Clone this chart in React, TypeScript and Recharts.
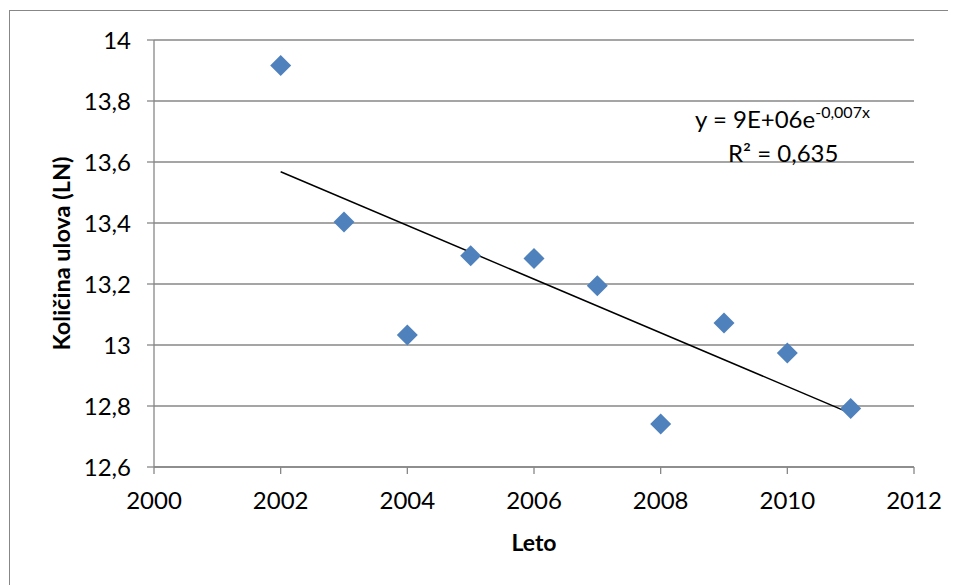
import React from 'react';
import { ScatterChart, Scatter, XAxis, YAxis, CartesianGrid } from 'recharts';

const years = [2002, 2003, 2004, 2005, 2006, 2007, 2008, 2009, 2010, 2011];
const catchLn = [13.916, 13.403, 13.033, 13.293, 13.284, 13.194, 12.741, 13.072, 12.974, 12.792];

const trendYears = [2002, 2011];
const trendValues = [13.568, 12.776];

const xTicks = [2000, 2002, 2004, 2006, 2008, 2010, 2012];
const yTicks = [12.6, 12.8, 13, 13.2, 13.4, 13.6, 13.8, 14];

const xLabel = 'Leto';
const yLabel = 'Količina ulova (LN)';
const eqMain = 'y = 9E+06e';
const eqExp = '-0,007x';
const r2Text = 'R² = 0,635';

const points = years.map((x, i) => ({ x, y: catchLn[i] }));
const trend = trendYears.map((x, i) => ({ x, y: trendValues[i] }));

const FONT = 'Lato, "Open Sans", sans-serif';
const GRAY = '#878787';

const Diamond = (props: any) => {
  const { cx, cy } = props;
  const r = 10.5;
  return (
    <polygon
      points={`${cx},${cy - r} ${cx + r},${cy} ${cx},${cy + r} ${cx - r},${cy}`}
      fill="#4F81BD"
    />
  );
};

const NoShape = () => <g />;

export default function App() {
  return (
    <div style={{ position: 'relative', width: 948, height: 577, overflow: 'hidden', background: '#fff' }}>
      <div
        style={{
          position: 'absolute',
          left: 1,
          top: 2,
          width: 1000,
          height: 700,
          border: `1px solid ${GRAY}`,
          boxSizing: 'border-box',
        }}
      />
      <div style={{ position: 'absolute', left: 0, top: 0 }}>
        <ScatterChart
          width={948}
          height={577}
          margin={{ top: 32, right: 42, left: 66, bottom: 58 }}
        >
          <CartesianGrid vertical={false} stroke={GRAY} strokeWidth={1.3} />
          <XAxis
            type="number"
            dataKey="x"
            domain={[2000, 2012]}
            ticks={xTicks}
            interval={0}
            height={60}
            stroke={GRAY}
            strokeWidth={1.3}
            tickSize={7}
            tickMargin={18}
            tick={{ fill: '#000', fontSize: 24, fontFamily: FONT }}
            label={{
              value: xLabel,
              position: 'bottom',
              offset: 8,
              style: { fill: '#000', fontSize: 23, fontWeight: 700, fontFamily: FONT },
            }}
          />
          <YAxis
            type="number"
            dataKey="y"
            domain={[12.6, 14]}
            ticks={yTicks}
            interval={0}
            width={80}
            stroke={GRAY}
            strokeWidth={1.3}
            tickSize={7}
            tickMargin={16}
            tickFormatter={(v: number) => String(v).replace('.', ',')}
            tick={{ fill: '#000', fontSize: 24, fontFamily: FONT }}
            label={{
              value: yLabel,
              angle: -90,
              position: 'insideLeft',
              offset: 0,
              dx: -12,
              style: { fill: '#000', fontSize: 23.5, fontWeight: 700, fontFamily: FONT, textAnchor: 'middle' },
            }}
          />
          <Scatter data={trend} line={{ stroke: '#000', strokeWidth: 1.5 }} shape={NoShape} isAnimationActive={false} />
          <Scatter data={points} shape={Diamond} isAnimationActive={false} />
        </ScatterChart>
      </div>
      <div
        style={{
          position: 'absolute',
          left: 640,
          top: 94,
          width: 300,
          textAlign: 'left',
          fontFamily: FONT,
          fontSize: 24,
          color: '#000',
          lineHeight: '34px',
        }}
      >
        <div style={{ position: 'absolute', left: 47, top: 0, whiteSpace: 'nowrap' }}>
          {eqMain}
          <span style={{ fontSize: 16, position: 'relative', top: -10 }}>{eqExp}</span>
        </div>
        <div style={{ position: 'absolute', left: 80, top: 34, whiteSpace: 'nowrap' }}>{r2Text}</div>
      </div>
    </div>
  );
}
